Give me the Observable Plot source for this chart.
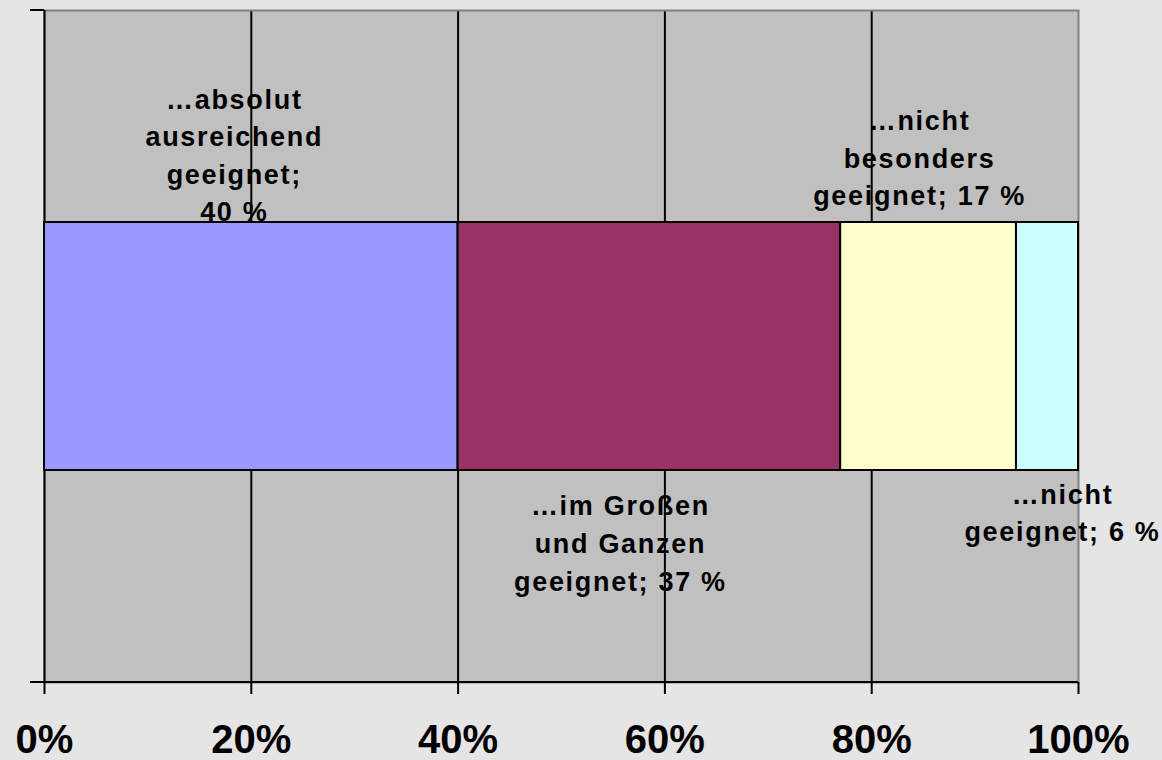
<!DOCTYPE html>
<html>
<head>
<meta charset="utf-8">
<script src="https://cdn.jsdelivr.net/npm/d3@7"></script>
<script src="https://cdn.jsdelivr.net/npm/@observablehq/plot@0.6"></script>
<style>
  html, body { margin: 0; padding: 0; background: #e5e5e5; }
  #chart svg { display: block; font-family: "Liberation Sans", Arial, sans-serif; }
  #chart svg g[aria-label="text"] { letter-spacing: 1.7px; }
</style>
</head>
<body>
<div id="chart"></div>
<script>
// ---- data ----
const categories = [
  "…absolut ausreichend geeignet",
  "…im Großen und Ganzen geeignet",
  "…nicht besonders geeignet",
  "…nicht geeignet"
];
const values = [40, 37, 17, 6];
const colors = ["#9999ff", "#993366", "#ffffcc", "#ccffff"];
const labelTexts = [
  "…absolut\nausreichend\ngeeignet;\n40 %",
  "…im Großen\nund Ganzen\ngeeignet; 37 %",
  "…nicht\nbesonders\ngeeignet; 17 %",
  "…nicht\ngeeignet; 6 %"
];
const tickValues = [0, 20, 40, 60, 80, 100];
const tickLabels = ["0%", "20%", "40%", "60%", "80%", "100%"];
const gridValues = [20, 40, 60, 80];

// build stacked table
let acc = 0;
const rows = categories.map((c, i) => {
  const r = {row: "Bar", category: c, x1: acc, x2: acc + values[i], mid: acc + values[i] / 2, color: colors[i], label: labelTexts[i]};
  acc += values[i];
  return r;
});

const textStyle = {
  fontSize: 27, fontWeight: "bold", fill: "black",
  lineAnchor: "middle", lineHeight: 1.39, textAnchor: "middle"
};
const labelMark = (i, dx, dy) => Plot.text([rows[i]], {x: "mid", y: "row", text: "label", dx, dy, ...textStyle});

const plot = Plot.plot({
  width: 1162,
  height: 760,
  marginTop: 10,
  marginLeft: 44,
  marginRight: 84,
  marginBottom: 78,
  style: {background: "#e5e5e5", fontFamily: "Liberation Sans, Arial, sans-serif"},
  x: {domain: [0, 100]},
  y: {domain: ["Bar"], padding: 0.46, axis: null},
  color: {type: "identity"},
  marks: [
    Plot.frame({fill: "#c0c0c0", stroke: null}),
    Plot.ruleX(gridValues, {stroke: "black", strokeWidth: 2}),
    Plot.frame({stroke: "#808080", strokeWidth: 2}),
    Plot.ruleX([0], {stroke: "black", strokeWidth: 2}),
    Plot.barX(rows, {x1: "x1", x2: "x2", y: "row", fill: "color", stroke: "black", strokeWidth: 2}),
    labelMark(0, -17, -193.5),
    labelMark(1, -29, 194.5),
    labelMark(2, -9, -191),
    labelMark(3, 15, 164),
    Plot.axisX({
      ticks: tickValues,
      tickFormat: (d) => tickLabels[tickValues.indexOf(d)],
      tickSize: 12,
      tickPadding: 30,
      strokeWidth: 2,
      fontSize: 40,
      fontWeight: "bold",
      label: null
    })
  ]
});

document.getElementById("chart").appendChild(plot);

// axis lines (bottom line and small left ticks) drawn from the plot's own scales
const xs = plot.scale("x").range;
const ys = plot.scale("y").range;
const svg = d3.select(plot);
const g = svg.append("g").attr("stroke", "black").attr("stroke-width", 2);
g.append("line").attr("x1", xs[0] - 14).attr("x2", xs[1]).attr("y1", ys[1]).attr("y2", ys[1]);
g.append("line").attr("x1", xs[0] - 14).attr("x2", xs[0]).attr("y1", ys[0]).attr("y2", ys[0]);
</script>
</body>
</html>
